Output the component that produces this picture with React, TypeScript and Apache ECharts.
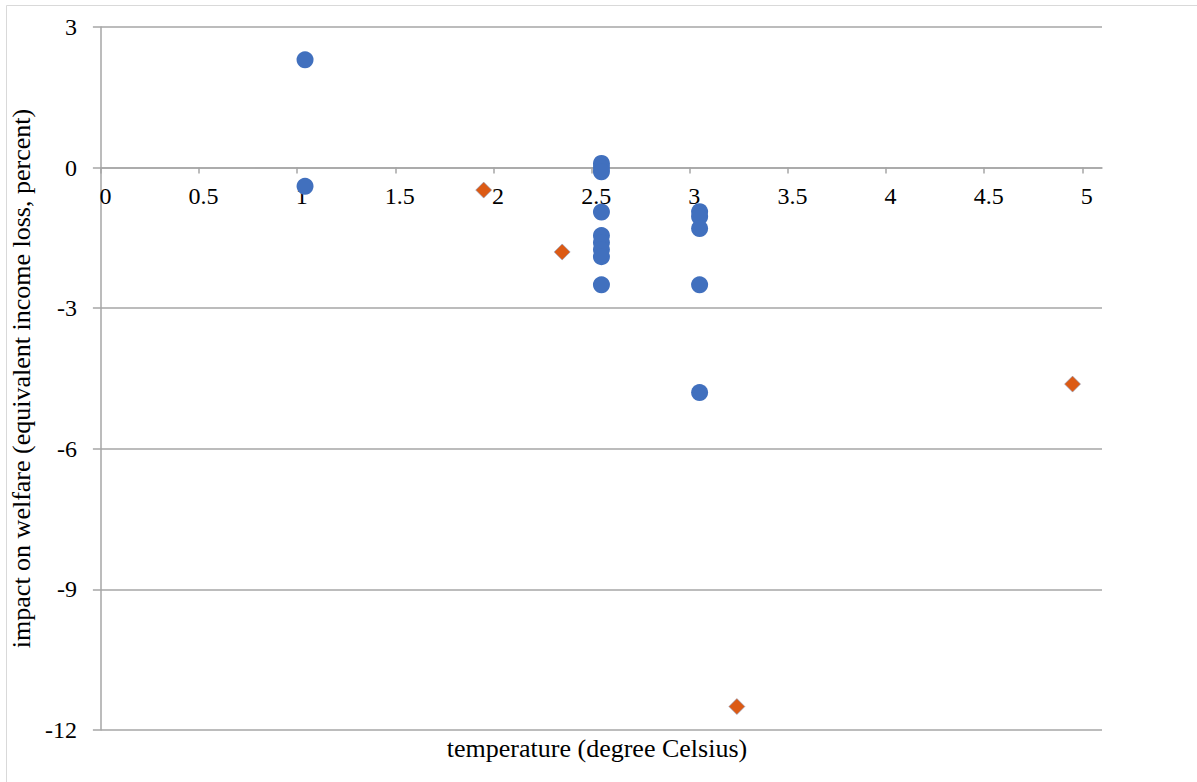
import React, { useEffect, useRef } from "react";
import * as echarts from "echarts";

const xTickLabels = [0, 0.5, 1, 1.5, 2, 2.5, 3, 3.5, 4, 4.5, 5];
const yTickLabels = [3, 0, -3, -6, -9, -12];

const blueX = [1.04, 1.04, 2.55, 2.55, 2.55, 2.55, 2.55, 2.55, 2.55, 2.55, 2.55, 3.05, 3.05, 3.05, 3.05, 3.05];
const blueY = [2.3, -0.4, 0.09, 0, -0.09, -0.95, -1.45, -1.6, -1.75, -1.9, -2.5, -0.94, -1.05, -1.3, -2.5, -4.8];

const orangeX = [1.95, 2.35, 3.24, 4.95];
const orangeY = [-0.48, -1.8, -11.5, -4.62];

const xTitle = "temperature (degree Celsius)";
const yTitle = "impact on welfare (equivalent income loss, percent)";

const FONT = "'Liberation Serif', 'Times New Roman', serif";
const GRID = "#a6a6a6";

const GRID_TOP = 27;
const GRID_H = 703;
const Y_MIN = -12;
const Y_MAX = 3;

export default function App() {
  const ref = useRef<HTMLDivElement>(null);
  useEffect(() => {
    if (!ref.current) return;
    const chart = echarts.init(ref.current, undefined, { renderer: "svg" });
    const zeroOffset = -(GRID_H * (0 - Y_MIN)) / (Y_MAX - Y_MIN);
    chart.setOption({
      animation: false,
      backgroundColor: "#ffffff",
      grid: { left: 92, top: GRID_TOP, width: 1010, height: GRID_H, containLabel: false },
      graphic: [
        {
          type: "rect",
          shape: { x: 6.5, y: 5.5, width: 1400, height: 1000 },
          style: { fill: "none", stroke: "#d9d9d9", lineWidth: 1 },
          silent: true,
        },
        {
          type: "text",
          x: 597,
          y: 748,
          style: {
            text: xTitle,
            font: `26px ${FONT}`,
            fill: "#000000",
            align: "center",
            verticalAlign: "middle",
          },
        },
      ],
      xAxis: {
        type: "value",
        min: 0,
        max: 5.1,
        interval: 0.5,
        position: "bottom",
        offset: zeroOffset,
        axisLine: { show: true, onZero: false, lineStyle: { color: GRID, width: 1.5 } },
        axisTick: {
          show: true,
          inside: false,
          length: 6,
          customValues: xTickLabels,
          lineStyle: { color: GRID, width: 1.5 },
        },
        axisLabel: {
          customValues: xTickLabels,
          fontFamily: FONT,
          fontSize: 24,
          color: "#000000",
          margin: 16,
          padding: [0, 0, 0, 9],
          formatter: (v: number) => String(v),
        },
        splitLine: { show: false },
      },
      yAxis: {
        type: "value",
        min: Y_MIN,
        max: Y_MAX,
        interval: 3,
        name: yTitle,
        nameLocation: "middle",
        nameGap: 59,
        nameRotate: 90,
        nameTextStyle: { fontFamily: FONT, fontSize: 26, color: "#000000" },
        axisLine: { show: true, onZero: false, lineStyle: { color: GRID, width: 1.5 } },
        axisTick: { show: true, length: 8, lineStyle: { color: GRID, width: 1.5 } },
        axisLabel: {
          fontFamily: FONT,
          fontSize: 24,
          color: "#000000",
          margin: 24,
          formatter: (v: number) => (yTickLabels.includes(v) ? String(v) : ""),
        },
        splitLine: { show: true, lineStyle: { color: GRID, width: 1.5 } },
      },
      series: [
        {
          type: "scatter",
          symbol: "circle",
          symbolSize: 17,
          itemStyle: { color: "#4170BE", opacity: 1 },
          data: blueX.map((x, i) => [x, blueY[i]]),
          z: 3,
        },
        {
          type: "scatter",
          symbol: "diamond",
          symbolSize: 16,
          itemStyle: { color: "#DC5A14", borderColor: "#8a9cc0", borderWidth: 0.6, opacity: 1 },
          data: orangeX.map((x, i) => [x, orangeY[i]]),
          z: 3,
        },
      ],
    });
    return () => chart.dispose();
  }, []);
  return (
    <div
      ref={ref}
      style={{ position: "absolute", left: 0, top: 0, width: 1197, height: 782 }}
    />
  );
}
